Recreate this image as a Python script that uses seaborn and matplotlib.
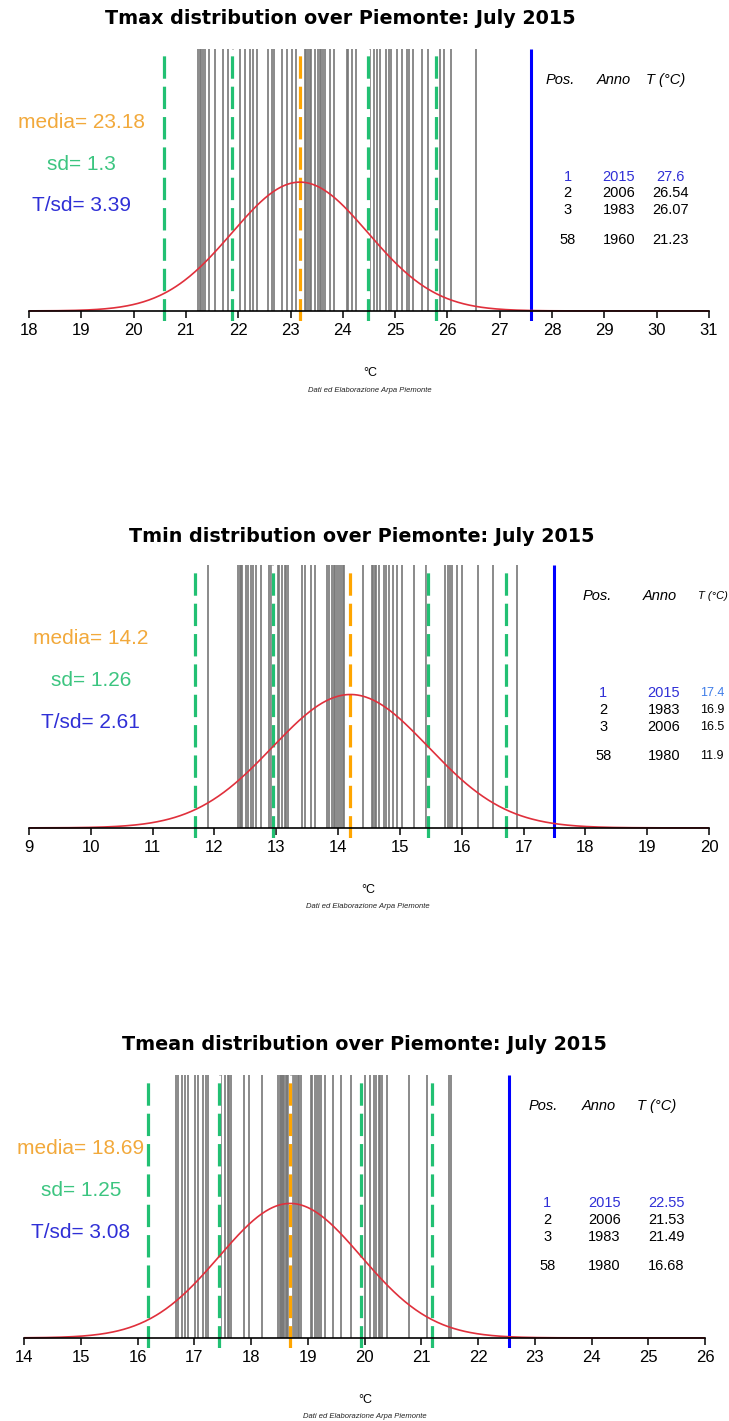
import numpy as np
import matplotlib
matplotlib.use("Agg")
import matplotlib.pyplot as plt
import seaborn as sns

# ---- data ----
# yearly July values (one grey line per year, 2015 excluded)
tmax_values = [21.23, 21.26, 21.28, 21.32, 21.36, 21.45, 21.55, 21.70, 21.80, 21.90,
               22.03, 22.13, 22.22, 22.28, 22.35, 22.56, 22.64, 22.68, 22.83, 22.94,
               23.02, 23.10, 23.27, 23.30, 23.33, 23.37, 23.40, 23.46, 23.52, 23.56,
               23.59, 23.62, 23.65, 23.75, 23.84, 24.07, 24.09, 24.18, 24.25, 24.51,
               24.60, 24.66, 24.71, 24.83, 24.89, 24.93, 25.04, 25.14, 25.22, 25.27,
               25.34, 25.52, 25.63, 25.85, 25.94, 26.07, 26.54]
tmin_values = [11.90, 12.38, 12.41, 12.43, 12.45, 12.51, 12.55, 12.59, 12.63, 12.68,
               12.76, 12.89, 12.92, 12.95, 13.02, 13.05, 13.09, 13.14, 13.16, 13.19,
               13.41, 13.47, 13.56, 13.63, 13.82, 13.85, 13.90, 13.93, 13.95, 13.98,
               14.02, 14.05, 14.08, 14.10, 14.40, 14.55, 14.57, 14.59, 14.62, 14.66,
               14.74, 14.78, 14.82, 14.89, 14.95, 15.03, 15.23, 15.42, 15.73, 15.77,
               15.81, 15.85, 15.92, 16.00, 16.26, 16.50, 16.90]
tmean_values = [16.68, 16.72, 16.79, 16.83, 16.89, 17.01, 17.06, 17.16, 17.21, 17.25,
                17.45, 17.47, 17.54, 17.60, 17.62, 17.65, 17.87, 17.97, 18.20, 18.48,
                18.51, 18.53, 18.55, 18.57, 18.59, 18.61, 18.63, 18.66, 18.70, 18.72,
                18.76, 18.79, 18.82, 18.85, 18.88, 19.05, 19.08, 19.12, 19.17, 19.20,
                19.23, 19.30, 19.45, 19.59, 19.76, 20.00, 20.09, 20.17, 20.21, 20.25,
                20.28, 20.31, 20.40, 20.78, 21.49, 21.53, 21.10]

names = ["Tmax", "Tmin", "Tmean"]
means = [23.18, 14.2, 18.69]
sds = [1.3, 1.26, 1.25]
t_over_sd = [3.39, 2.61, 3.08]
t_2015 = [27.6, 17.5, 22.55]
x_ranges = [(18, 31), (9, 20), (14, 26)]

rank_pos = ["1", "2", "3", "58"]
tmax_rank_years = ["2015", "2006", "1983", "1960"]
tmax_rank_temps = ["27.6", "26.54", "26.07", "21.23"]
tmin_rank_years = ["2015", "1983", "2006", "1980"]
tmin_rank_temps = ["17.4", "16.9", "16.5", "11.9"]
tmean_rank_years = ["2015", "2006", "1983", "1980"]
tmean_rank_temps = ["22.55", "21.53", "21.49", "16.68"]

# ---- style ----
sns.set_theme(style="white")
plt.rcParams["font.family"] = ["Liberation Sans", "DejaVu Sans"]
plt.rcParams["text.color"] = "black"

C_GREY = "#777777"
C_GREEN = "#22C073"
C_ORANGE = "#FFA500"
C_BLUE = "#0000FF"
C_RED = "#E0303C"
TXT_ORANGE = "#F2A93B"
TXT_GREEN = "#3CC580"
TXT_BLUE = "#2F2FD6"

YTOP = 0.624
YBOT = -0.024

fig = plt.figure(figsize=(7.29, 14.21), dpi=100)
H = 1421.0
W = 729.0

# axes boxes in pixels: (left, right, top, bottom)
boxes = [(29, 709, 49, 321), (29, 709, 565, 838), (24, 705, 1075, 1348)]
title_pos = [(340, 18), (362, 537), (364, 1045)]
unit_pos = [(370, 373), (368, 890), (365, 1400)]
credit_pos = [(370, 390), (368, 907), (365, 1417)]
# table column x positions (data units): header pos, anno, T ; rows pos, anno, T
table_x = [(28.15, 29.18, 30.18, 28.30, 29.28, 30.27),
           (18.20, 19.20, 20.07, 18.29, 19.27, 20.05),
           (23.15, 24.13, 25.15, 23.22, 24.23, 25.32)]
all_values = [tmax_values, tmin_values, tmean_values]
all_years = [tmax_rank_years, tmin_rank_years, tmean_rank_years]
all_temps = [tmax_rank_temps, tmin_rank_temps, tmean_rank_temps]


def dashed(ax, x, color):
    ax.vlines(x, YBOT, YTOP, color="white", lw=2.3, zorder=3)
    ax.vlines(x, YBOT, YTOP, color=color, lw=2.3, linestyles=(0, (7, 2.5)), zorder=4)


for i in range(3):
    l, r, t, b = boxes[i]
    ax = fig.add_axes([l / W, 1 - b / H, (r - l) / W, (b - t) / H])
    xmin, xmax = x_ranges[i]
    m, s = means[i], sds[i]

    ax.vlines(all_values[i], 0, YTOP, color=C_GREY, lw=1.2, zorder=2)

    for k in (-2, -1, 1, 2):
        dashed(ax, m + k * s, C_GREEN)
    dashed(ax, m, C_ORANGE)
    ax.vlines(t_2015[i], YBOT, YTOP, color=C_BLUE, lw=2.2, zorder=5)

    xs = np.linspace(xmin, xmax, 500)
    dens = np.exp(-0.5 * ((xs - m) / s) ** 2) / (s * np.sqrt(2 * np.pi))
    sns.lineplot(x=xs, y=dens, ax=ax, color=C_RED, lw=1.2, zorder=6)

    ax.set_xlim(xmin, xmax)
    ax.set_ylim(YBOT, YTOP)
    for side in ("left", "right", "top"):
        ax.spines[side].set_visible(False)
    ax.spines["bottom"].set_position(("data", 0))
    ax.spines["bottom"].set_bounds(xmin, xmax)
    ax.spines["bottom"].set_linewidth(1.2)
    ax.spines["bottom"].set_color("black")
    ax.spines["bottom"].set_zorder(7)
    ax.set_xticks(range(xmin, xmax + 1))
    ax.tick_params(axis="x", direction="out", length=5, width=1.1, pad=4,
                   labelsize=12, colors="black", bottom=True)
    ax.set_yticks([])
    ax.set_xlabel("")
    ax.set_ylabel("")
    ax.set_facecolor("none")

    # left annotations
    xa = xmin + 1
    ax.text(xa, 0.45, "media= %s" % means[i], color=TXT_ORANGE, fontsize=15,
            ha="center", va="center")
    ax.text(xa, 0.35, "sd= %s" % sds[i], color=TXT_GREEN, fontsize=15,
            ha="center", va="center")
    ax.text(xa, 0.25, "T/sd= %s" % t_over_sd[i], color=TXT_BLUE, fontsize=15,
            ha="center", va="center")

    # ranking table
    hx1, hx2, hx3, rx1, rx2, rx3 = table_x[i]
    tsize = 8 if i == 1 else 10.5
    ax.text(hx1, 0.55, "Pos.", style="italic", fontsize=10.5, ha="center", va="center")
    ax.text(hx2, 0.55, "Anno", style="italic", fontsize=10.5, ha="center", va="center")
    ax.text(hx3, 0.55, "T (°C)", style="italic", fontsize=tsize, ha="center", va="center")
    row_y = [0.32, 0.28, 0.24, 0.17]
    for j in range(4):
        col = TXT_BLUE if j == 0 else "black"
        tcol = ("#3D7CE8" if i == 1 else TXT_BLUE) if j == 0 else "black"
        ax.text(rx1, row_y[j], rank_pos[j], color=col, fontsize=10.5, ha="center", va="center")
        ax.text(rx2, row_y[j], all_years[i][j], color=col, fontsize=10.5, ha="center", va="center")
        ax.text(rx3, row_y[j], all_temps[i][j], color=tcol,
                fontsize=9 if i == 1 else 10.5, ha="center", va="center")

    tx, ty = title_pos[i]
    fig.text(tx / W, 1 - ty / H, "%s distribution over Piemonte: July 2015" % names[i],
             family="DejaVu Sans", weight="bold", fontsize=13.8, ha="center", va="center",
             color="black")
    ux, uy = unit_pos[i]
    fig.text(ux / W, 1 - uy / H, "°C", fontsize=9, ha="center", va="center")
    cx, cy = credit_pos[i]
    fig.text(cx / W, 1 - cy / H, "Dati ed Elaborazione Arpa Piemonte", style="italic",
             fontsize=5.5, ha="center", va="center", color="#222222")

fig.savefig("out.png", dpi=100, facecolor="white")
